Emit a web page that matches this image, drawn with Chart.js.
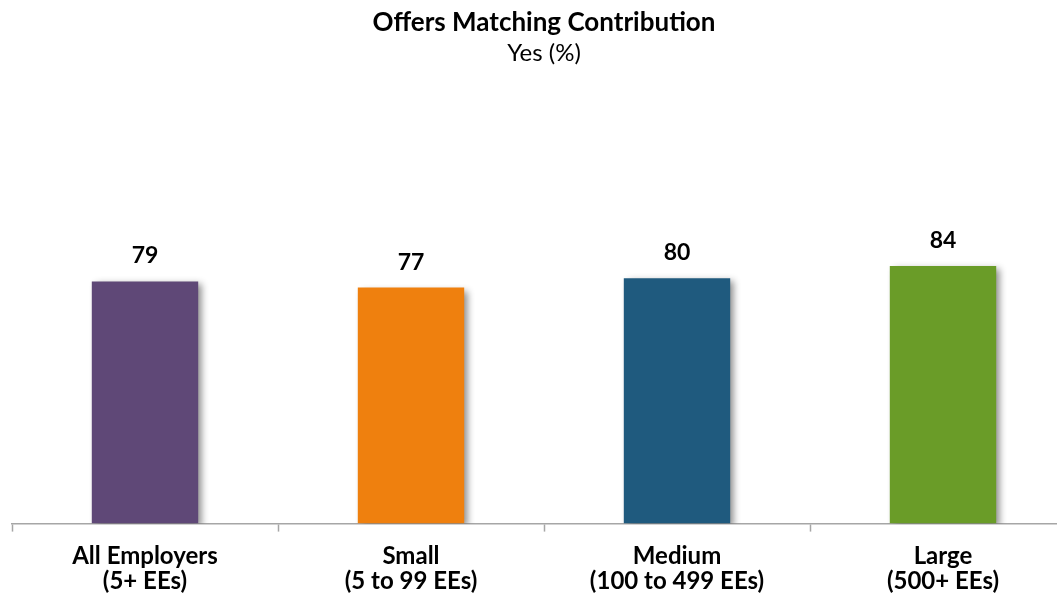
<!DOCTYPE html>
<html>
<head>
<meta charset="utf-8">
<script src="https://cdn.jsdelivr.net/npm/chart.js@4"></script>
<style>
    html, body { margin: 0; padding: 0; background: #fff; overflow: hidden; }
    #wrap { width: 1116px; height: 614px; position: relative; }
</style>
</head>
<body>
<div id="wrap"><canvas id="grafico"></canvas></div>
<script>
const categorias = [['All Employers', '(5+ EEs)'], ['Small', '(5 to 99 EEs)'], ['Medium', '(100 to 499 EEs)'], ['Large', '(500+ EEs)']];
const valores = [79, 77, 80, 84];
const cores = ['#5f4877', '#ef800e', '#1f5a7e', '#6a9c28'];

const fonte = "Lato, 'Open Sans', sans-serif";

const sombraBarras = {
    id: 'sombraBarras',
    beforeDatasetsDraw(chart) {
        const ctx = chart.ctx;
        ctx.save();
        ctx.shadowColor = 'rgba(0,0,0,0.45)';
        ctx.shadowBlur = 7;
        ctx.shadowOffsetX = 4;
        ctx.shadowOffsetY = 3;
    },
    afterDatasetsDraw(chart) {
        const ctx = chart.ctx;
        ctx.restore();
        // rótulos de valor acima das barras
        const meta = chart.getDatasetMeta(0);
        ctx.save();
        ctx.fillStyle = '#000';
        ctx.font = `bold 23px ${fonte}`;
        ctx.textAlign = 'center';
        ctx.textBaseline = 'alphabetic';
        meta.data.forEach((bar, i) => {
            ctx.fillText(String(valores[i]), bar.x, bar.y - 18);
        });
        ctx.restore();
    }
};

new Chart(document.getElementById('grafico'), {
    type: 'bar',
    data: {
        labels: categorias,
        datasets: [{
            data: valores,
            backgroundColor: cores,
            borderWidth: 0,
            categoryPercentage: 1,
            barPercentage: 0.4
        }]
    },
    options: {
        responsive: true,
        maintainAspectRatio: false,
        animation: false,
        layout: { padding: { left: 12, right: 40, top: 0, bottom: 8 } },
        plugins: {
            legend: { display: false },
            tooltip: { enabled: false },
            title: {
                display: true,
                text: 'Offers Matching Contribution',
                color: '#000',
                font: { family: fonte, size: 26, weight: 'bold', lineHeight: 1.2 },
                padding: { top: 7, bottom: 1 }
            },
            subtitle: {
                display: true,
                text: 'Yes (%)',
                color: '#000',
                font: { family: fonte, size: 24, lineHeight: 1.2 },
                padding: { top: 0, bottom: 149 }
            }
        },
        scales: {
            y: { display: false, min: 0, max: 100 },
            x: {
                grid: {
                    offset: true,
                    drawOnChartArea: false,
                    color: '#a6a6a6',
                    tickLength: 8,
                    tickWidth: 1.5
                },
                border: { color: '#a6a6a6', width: 1.5 },
                ticks: {
                    color: '#000',
                    font: { family: fonte, size: 24, weight: 'bold', lineHeight: 1.05 },
                    padding: 12,
                    maxRotation: 0
                }
            }
        }
    },
    plugins: [sombraBarras]
});
</script>
</body>
</html>
